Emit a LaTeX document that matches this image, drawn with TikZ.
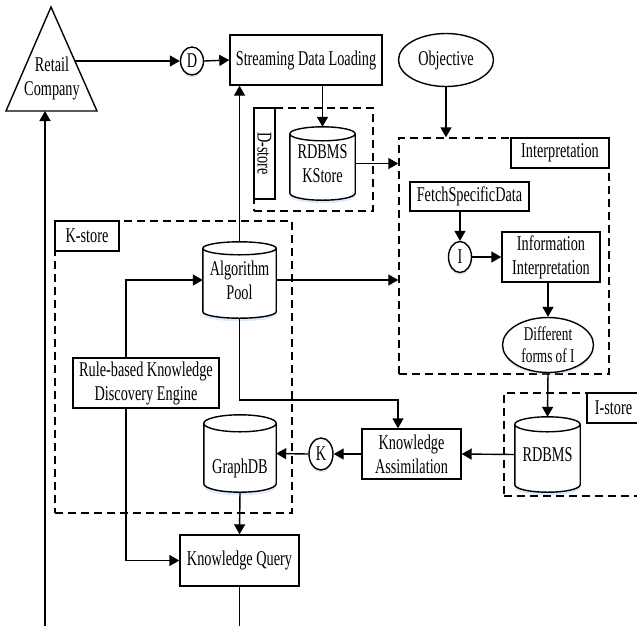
\documentclass[tikz,border=0pt]{standalone}
\usepackage{fontspec}
\setmainfont{Liberation Serif}[FakeStretch=0.68]
\usetikzlibrary{arrows.meta,calc,shapes.geometric,backgrounds,shadows}

\definecolor{glowblue}{RGB}{140,185,235}
\newcommand\txtsize{\fontsize{21}{24}\selectfont}
\newcommand\smallsize{\fontsize{19.5}{22}\selectfont}

% silhouette of a cylinder around node #1, cap radius #2, shifted down by #3
\newcommand\cylsil[3]{let \p1=(#1.north west), \p2=(#1.south east), \n1={(\x2-\x1)/2} in
  (\x1,\y1-#2pt-#3pt) -- (\x1,\y2+#2pt-#3pt)
  arc[start angle=180,end angle=360,x radius={\n1*1pt},y radius=#2pt]
  -- (\x2,\y1-#2pt-#3pt)
  arc[start angle=0,end angle=180,x radius={\n1*1pt},y radius=#2pt]}

% database cylinder drawn around node #1 with cap radius #2
\newcommand\drawcyl[2]{%
  \begin{pgfonlayer}{background}
    \fill[glowblue,opacity=.3] \cylsil{#1}{#2}{3} -- cycle;
    \fill[white] \cylsil{#1}{#2}{0} -- cycle;
  \end{pgfonlayer}
  \draw[line] \cylsil{#1}{#2}{0}
    arc[start angle=180,end angle=360,x radius={\n1*1pt},y radius=#2pt];
}

\tikzset{
  line/.style={line width=1.4pt},
  arr/.style={line, -{Triangle[length=10pt,width=11pt]}},
  box/.style={draw, line width=1.4pt, inner sep=0pt, fill=white, align=center},
  dbox/.style={draw, line width=1.4pt, dash pattern=on 8pt off 5pt, inner sep=0pt},
  oval/.style={ellipse, draw, line width=1.4pt, inner sep=0pt, fill=white, align=center},
  glow/.style={drop shadow={shadow xshift=0pt, shadow yshift=-2.5pt, fill=glowblue, opacity=.3}},
  cyl/.style={inner sep=0pt, align=center},
  sz/.style 2 args={minimum width=#1, minimum height=#2},
}

\begin{document}
\begin{tikzpicture}[x=1pt, y=-1pt, every node/.style={font=\txtsize}]
\useasboundingbox (0,0) rectangle (637,625);
\clip (0,0) rectangle (637,625);

% dashed store containers
\node[dbox, sz={119}{103}] (dstore) at (313.5,159.5) {};
\node[dbox, sz={210}{236}] (interp) at (504,256) {};
\node[dbox, sz={237}{292}] (kstore) at (173.5,367) {};
\node[dbox, sz={136}{103}] (istore) at (572,444.5) {};

% container labels
\node[box, sz={91}{21}, rotate=-90] (dlabel) at (264.5,153.5) {D-store};
\node[box, sz={98}{30}] (ilabel) at (560,153) {Interpretation};
\node[box, sz={64}{30}] (klabel) at (87,236) {K-store};
\node[box, sz={53}{30}] (islabel) at (613.5,408) {I-store};

% retail company
\coordinate (tA) at (51,7);
\coordinate (tR) at (97,111);
\coordinate (tL) at (6,111);
\draw[line] (tA) -- (tR) -- (tL) -- cycle;
\node[align=center] (retail) at (52,78.5) {Retail\\Company};
\coordinate (retailR) at (75,61);
\coordinate (retailB) at (45,111);
\coordinate (rend) at (45,640);

% process boxes
\node[oval, glow, sz={23}{28}] (D) at (192,61) {D};
\node[box, sz={152}{50}] (stream) at (306,60) {Streaming Data Loading};
\node[oval, sz={95}{53}] (objective) at (446,60) {Objective};
\node[box, sz={119}{29}] (fetch) at (469.5,196.5) {FetchSpecificData};
\node[oval, glow, sz={23}{31}] (I) at (460,257) {I};
\node[box, sz={98}{50}] (info) at (551,257) {Information\\Interpretation};
\node[oval, glow, sz={91}{55}, font=\smallsize] (diff) at (548,345) {Different\\forms of I};
\node[box, sz={99}{50}] (assim) at (411.5,454) {Knowledge\\Assimilation};
\node[oval, glow, sz={24}{32}] (K) at (321,454) {K};
\node[box, sz={146}{50}] (rule) at (146,383) {Rule-based Knowledge\\Discovery Engine};
\node[box, sz={119}{51}] (query) at (239.5,560.5) {Knowledge Query};
\coordinate (qend) at (239.5,640);

% databases
\node[cyl, sz={65}{73}] (rdbmsK) at (322.5,163.5) {RDBMS\\KStore};
\node[cyl, sz={73}{76}] (algo) at (239.5,280) {Algorithm\\Pool};
\node[cyl, sz={72}{77}, label={[yshift=-14.5pt]center:GraphDB}] (graphdb) at (240,453.5) {};
\node[cyl, sz={65}{75}] (rdbmsI) at (547.5,454.5) {RDBMS};
\drawcyl{rdbmsK}{7}
\drawcyl{algo}{6.5}
\drawcyl{graphdb}{8.5}
\drawcyl{rdbmsI}{7.5}

% connectors
\draw[arr] (retailR) -- (D.west);
\draw[arr] (D.east) -- (stream.west);
\draw[arr] (rdbmsK.north |- stream.south) -- (rdbmsK.north);
\draw[arr] (objective.south) -- (objective.south |- interp.north);
\draw[arr] (rdbmsK.east) -- (rdbmsK.east -| interp.west);
\draw[arr] (I.north |- fetch.south) -- (I.north);
\draw[arr] (I.east) -- (info.west);
\draw[arr] (diff.north |- info.south) -- (diff.north);
\draw[arr] (diff.south) -- (rdbmsI.north);
\draw[arr] (rdbmsI.west) -- (assim.east);
\draw[arr] (assim.west) -- (K.east);
\draw[arr] (K.west) -- (graphdb.east);
\draw[arr] (graphdb.south) -- (query.north);
\draw[arr] (algo.north) -- (algo.north |- stream.south);
\draw[arr] (algo.east) -- (algo.east -| interp.west);
\draw[arr] ([xshift=-20pt]rule.north) |- (algo.west);
\draw[arr] ([xshift=-20pt]rule.south) |- (query.west);
\draw[arr] (algo.south) -- (algo.south |- 0,400) -| ([xshift=-13.5pt]assim.north);
\draw[line] (query.south) -- (qend);
\draw[arr] (rend) -- (retailB);
\end{tikzpicture}
\end{document}
